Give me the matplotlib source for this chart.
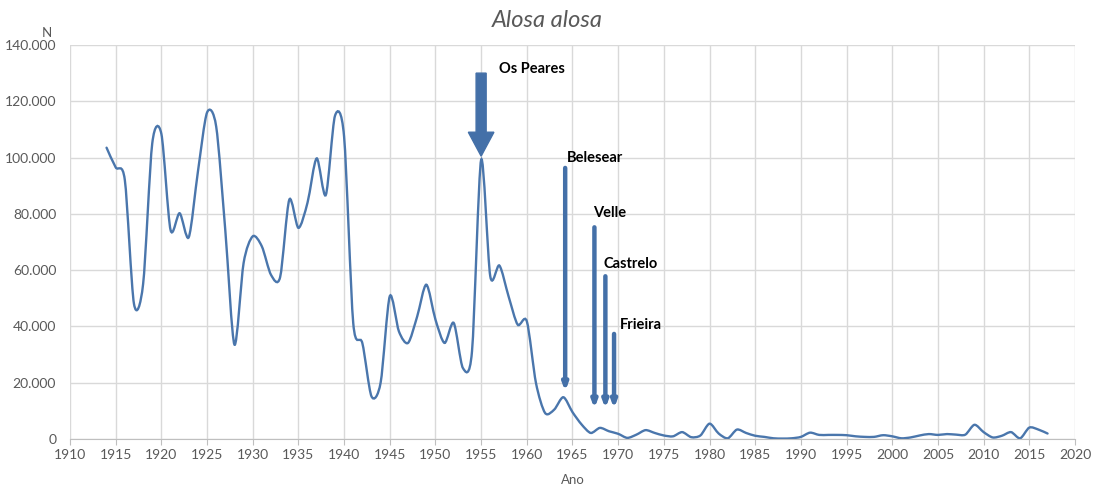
import matplotlib.pyplot as plt
from matplotlib.path import Path
from matplotlib.patches import PathPatch, FancyArrow
from matplotlib.ticker import FuncFormatter, MultipleLocator
import numpy as np

plt.rcParams['font.family'] = ['Lato', 'DejaVu Sans']

# catch per year (N)
years = list(range(1914, 2018))
catch = [
    103500, 96500, 92000, 48000, 55000, 105000, 108400, 74300, 80200, 71700,
    95000, 116000, 111000, 74000, 33500, 62500, 72000, 68400, 58300, 57500,
    85000, 75000, 84000, 99700, 86700, 114800, 107400, 41200, 34000, 15100,
    20000, 50700, 38200, 34100, 43500, 54800, 42400, 34100, 41200, 25200,
    31100, 99200, 57800, 61600, 50700, 40600, 41800, 19900, 9200, 10400,
    14800, 9500, 5100, 2100, 3900, 2700, 1800, 350, 1500, 3100,
    2100, 1200, 900, 2400, 600, 1200, 5400, 1900, 200, 3300,
    2100, 1100, 700, 200, 100, 200, 700, 2200, 1400, 1400,
    1400, 1300, 900, 700, 700, 1300, 900, 200, 500, 1200,
    1700, 1400, 1700, 1500, 1500, 5000, 2400, 500, 1100, 2400,
    200, 4000, 3300, 1900,
]

# dams downstream: arrow x, arrow top, arrow bottom, label position
dams = ["Belesear", "Velle", "Castrelo", "Frieira"]
dam_x = [1964.2, 1967.4, 1968.6, 1969.55]
dam_top = [96300, 75200, 57800, 37300]
dam_bottom = [16900, 10800, 10800, 10800]
label_x = [1964.4, 1967.3, 1968.4, 1970.2]
label_y = [99700, 80400, 62000, 40300]

BLUE = '#4A76AC'
ARROW = '#4470A8'
GREY = '#595959'


def smooth_path(x, y, k=0.14):
    # excel style smoothed line: cubic bezier segments through the data points
    x, y = np.asarray(x, float), np.asarray(y, float)
    verts = [(x[0], y[0])]
    codes = [Path.MOVETO]
    n = len(x)
    for i in range(n - 1):
        x0, y0 = (x[i - 1], y[i - 1]) if i > 0 else (x[i], y[i])
        x3, y3 = (x[i + 2], y[i + 2]) if i + 2 < n else (x[i + 1], y[i + 1])
        c1 = (x[i] + (x[i + 1] - x0) * k, y[i] + (y[i + 1] - y0) * k)
        c2 = (x[i + 1] - (x3 - x[i]) * k, y[i + 1] - (y3 - y[i]) * k)
        verts += [c1, c2, (x[i + 1], y[i + 1])]
        codes += [Path.CURVE4] * 3
    return Path(verts, codes)


fig = plt.figure(figsize=(10.94, 4.86), dpi=100)
ax = fig.add_axes([0.064, 0.097, 0.9186, 0.8104])

ax.add_patch(PathPatch(smooth_path(years, catch), facecolor='none',
                       edgecolor=BLUE, linewidth=1.7, capstyle='round'))

ax.set_xlim(1910, 2020)
ax.set_ylim(0, 140000)
ax.xaxis.set_major_locator(MultipleLocator(5))
ax.yaxis.set_major_locator(MultipleLocator(20000))
ax.yaxis.set_major_formatter(FuncFormatter(lambda v, p: f'{int(v):,}'.replace(',', '.')))
ax.grid(True, color='#D9D9D9', linewidth=1.0)
ax.set_axisbelow(True)
for s in ['top', 'right', 'left']:
    ax.spines[s].set_visible(False)
ax.spines['bottom'].set_color('#BFBFBF')
ax.tick_params(axis='y', length=0, labelsize=10, colors=GREY, pad=10)
ax.tick_params(axis='x', length=4, color='#BFBFBF', labelsize=10, labelcolor=GREY)

fig.text(0.5, 0.958, 'Alosa alosa', fontsize=17, style='italic', color=GREY,
         ha='center', va='center')
ax.set_xlabel('Ano', fontsize=9.5, color=GREY, labelpad=9)
ax.text(-0.018, 1.015, 'N', transform=ax.transAxes, fontsize=9.5, color=GREY,
        ha='right', va='bottom')

# Os Peares dam, thick arrow
ax.add_patch(FancyArrow(1955, 130000, 0, -29500, width=1.1, head_width=2.8,
                        head_length=8500, length_includes_head=True,
                        color=ARROW, zorder=3))
ax.text(1957.0, 131500, 'Os Peares', fontsize=10.5, fontweight='bold',
        ha='left', va='center', color='black')

for name, xd, top, bot, lx, ly in zip(dams, dam_x, dam_top, dam_bottom, label_x, label_y):
    ax.annotate('', xy=(xd, bot), xytext=(xd, top),
                arrowprops=dict(arrowstyle='-|>,head_length=0.4,head_width=0.15',
                                color=ARROW, lw=3.2, shrinkA=0, shrinkB=0))
    ax.text(lx, ly, name, fontsize=10.5, fontweight='bold', ha='left',
            va='center', color='black')

fig.savefig('out.png', dpi=100, facecolor='white')
